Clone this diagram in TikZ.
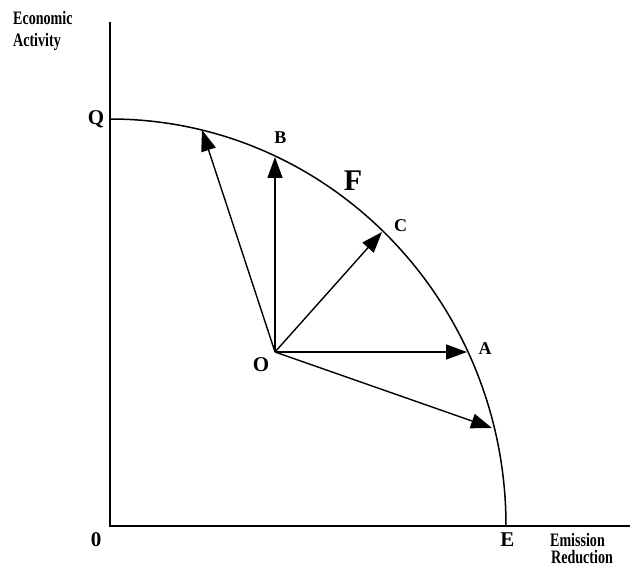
\documentclass[tikz,border=0pt]{standalone}
\usepackage{fontspec}
\setmainfont{Liberation Serif}
\usetikzlibrary{arrows.meta}
\begin{document}
\begin{tikzpicture}[x=1pt,y=1pt,
  axisline/.style={line width=2pt},
  frontier/.style={line width=1.5pt},
  vec/.style={line width=1.4pt,-{Triangle[length=21pt,width=15pt]}},
  pointlbl/.style={font=\fontsize{21}{21}\selectfont\bfseries,inner sep=0pt,anchor=base},
  smalllbl/.style={font=\fontsize{18}{18}\selectfont\bfseries,inner sep=0pt,anchor=base},
  axislbl/.style={font=\fontsize{19}{19}\selectfont\bfseries,inner sep=0pt,anchor=base west,xscale=0.74}]
\useasboundingbox (0,0) rectangle (630,568);
\fill[white] (0,0) rectangle (630,568);
% axes
\coordinate (orig) at (110,42);
\coordinate (ytop) at (110,546);
\coordinate (xend) at (630,42);
\draw[axisline] (ytop) -- (orig) -- (xend);
% frontier
\coordinate (Qp) at (110,449);
\coordinate (Ep) at (506,42);
\draw[frontier] (Qp) arc[start angle=90,end angle=0,x radius=396,y radius=407];
% vectors
\coordinate (O) at (275,216);
\coordinate (T1) at (202,438);
\coordinate (Bp) at (275,411);
\coordinate (Cp) at (382,336);
\coordinate (Ap) at (467,216);
\coordinate (T5) at (492,140);
\draw[vec] (O) -- (T1);
\draw[vec] (O) -- (Bp);
\draw[vec] (O) -- (Cp);
\draw[vec] (O) -- (Ap);
\draw[vec] (O) -- (T5);
% labels
\node[pointlbl] (lQ) at (96,443) {Q};
\node[pointlbl] (lO) at (261,196) {O};
\node[pointlbl] (l0) at (96,21) {0};
\node[pointlbl] (lE) at (507.5,21) {E};
\node[smalllbl] (lB) at (280.5,424) {B};
\node[smalllbl] (lC) at (400.5,336) {C};
\node[smalllbl] (lA) at (485,213) {A};
\node[font=\fontsize{30}{30}\selectfont\bfseries,inner sep=0pt,anchor=base] (lF) at (353,377) {F};
\node[axislbl] (ea1) at (13,543) {Economic};
\node[axislbl] (ea2) at (13,521) {Activity};
\node[axislbl] (er1) at (550,21) {Emission};
\node[axislbl] (er2) at (551,4) {Reduction};
\end{tikzpicture}
\end{document}
